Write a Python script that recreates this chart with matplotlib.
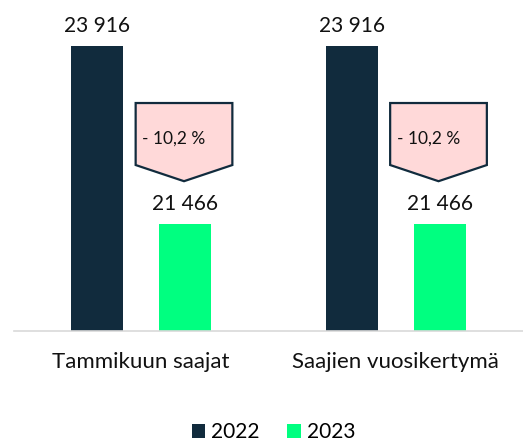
import matplotlib
matplotlib.use("Agg")
import matplotlib.pyplot as plt
from matplotlib.patches import Polygon, Patch
import numpy as np

categories = ["Tammikuun saajat", "Saajien vuosikertymä"]
years = ["2022", "2023"]
values_2022 = [23916, 23916]
values_2023 = [21466, 21466]

colors = ["#112B3D", "#00FF80"]
plt.rcParams['font.family'] = ['Lato', 'DejaVu Sans']

W, H = 523, 444
fig = plt.figure(figsize=(W / 100, H / 100), dpi=100)
ax = fig.add_axes([14 / W, (H - 331) / H, (W - 14) / W, 331 / H])

x = np.arange(len(categories))
bw = 0.205
off = 0.173
ymin = 20000
ax.set_ylim(ymin, 24543)
ax.set_xlim(-0.5, 1.5)

for i, (vals, c) in enumerate(zip([values_2022, values_2023], colors)):
    xs = x + (-off if i == 0 else off)
    ax.bar(xs, np.array(vals) - ymin, bottom=ymin, width=bw, color=c, zorder=2)
    for xi, v in zip(xs, vals):
        ax.annotate(f"{v:,}".replace(",", " "), (xi, v), xytext=(0, 7),
                    textcoords="offset points", ha="center", va="bottom",
                    fontsize=15, color="#111111")

# callouts
for xi, a, b in zip(x, values_2022, values_2023):
    pct = (b - a) / a * 100
    cx = xi + off - 0.005
    hw = 0.19
    tip = b + 590
    side = b + 812
    top = b + 1663
    poly = Polygon([(cx - hw, top), (cx + hw, top), (cx + hw, side), (cx, tip), (cx - hw, side)],
                   closed=True, facecolor="#FFD9D9", edgecolor="#112B3D", linewidth=1.6, zorder=3)
    ax.add_patch(poly)
    ax.text(cx - 0.04, (top + side) / 2 - 60, f"- {abs(pct):.1f} %".replace(".", ","),
            ha="center", va="center", fontsize=12.5, color="#111111", zorder=4)

for s in ["top", "left", "right"]:
    ax.spines[s].set_visible(False)
ax.spines["bottom"].set_color("#D9D9D9")
ax.spines["bottom"].set_linewidth(1.2)
ax.set_yticks([])
ax.set_xticks(x)
ax.set_xticklabels(categories, fontsize=16, color="#111111")
ax.tick_params(axis="x", length=0, pad=15)

handles = [Patch(facecolor=c, label=y) for c, y in zip(colors, years)]
fig.legend(handles=handles, loc="center", bbox_to_anchor=(0.523, (H - 432) / H), ncol=2,
           frameon=False, fontsize=15, handlelength=0.65, handleheight=0.65,
           handletextpad=0.3, columnspacing=1.3)

fig.savefig("out.png", dpi=100)
